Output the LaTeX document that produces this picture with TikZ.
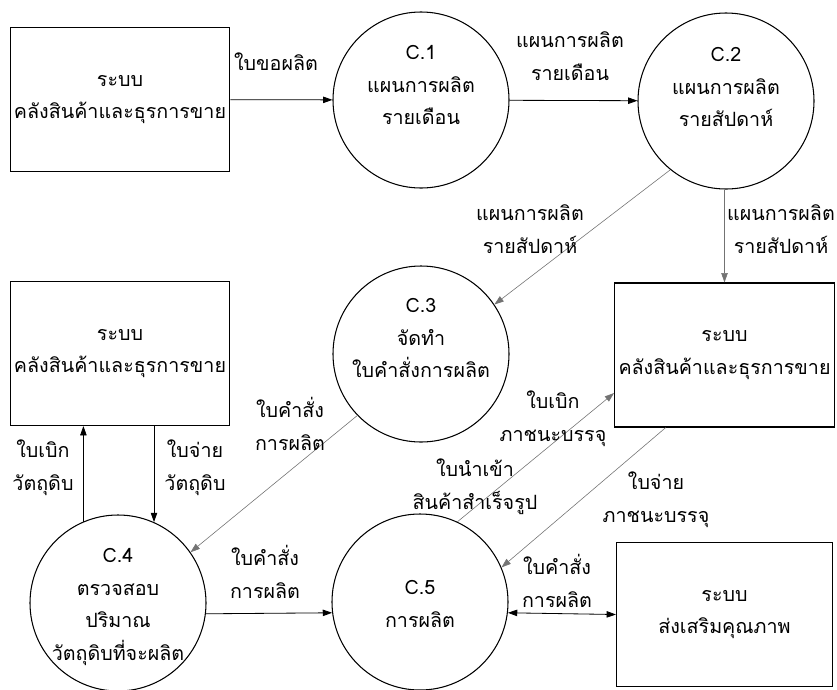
\documentclass[tikz,border=0pt]{standalone}
\usepackage{fontspec}
\setmainfont[Script=Thai]{Loma}
\usepackage{tikz}
\usetikzlibrary{arrows.meta}

\begin{document}
\begin{tikzpicture}[x=0.03cm,y=-0.03cm,
    font=\fontsize{16.8}{28}\selectfont,
    ent/.style={draw,line width=0.9pt,minimum width=6.48cm,minimum height=4.32cm,align=center},
    proc/.style={draw,circle,line width=0.9pt,minimum size=5.28cm,inner sep=0pt},
    txt/.style={align=center,inner sep=1pt},
    flow/.style={line width=0.7pt,-{Triangle[length=8pt,width=5.5pt]}},
    both/.style={line width=0.7pt,{Triangle[length=8pt,width=5.5pt]}-{Triangle[length=8pt,width=5.5pt]}},
    thin/.style={flow,line width=0.5pt,draw=black!55}]
			\useasboundingbox (0,0) rectangle (837,689);
			\node[ent] (b1) at (120,99.5) {ระบบ\\คลังสินค้าและธุรการขาย};
			\node[ent] (b3) at (120,353.5) {ระบบ\\คลังสินค้าและธุรการขาย};
			\node[ent] (b2) at (724.5,355) {ระบบ\\คลังสินค้าและธุรการขาย};
			\node[ent] (b4) at (724.5,614.5) {ระบบ\\ส่งเสริมคุณภาพ};
			\node[proc] (c1) at (421,100) {};
			\node[proc] (c2) at (726,101) {};
			\node[proc] (c3) at (421,354) {};
			\node[proc] (c4) at (118,603) {};
			\node[proc] (c5) at (420,602) {};
			\node[txt] (c1t) at (421,85) {C.1\\แผนการผลิต\\รายเดือน};
			\node[txt] (c2t) at (726,87) {C.2\\แผนการผลิต\\รายสัปดาห์};
			\node[txt] (c3t) at (421,338) {C.3\\จัดทำ\\ใบคำสั่งการผลิต};
			\node[txt] (c4t) at (118,607) {C.4\\ตรวจสอบ\\ปริมาณ\\วัตถุดิบที่จะผลิต};
			\node[txt] (c5t) at (420,604) {C.5\\การผลิต};
			\draw[flow] (b1) -- (c1);
			\draw[flow] (c1) -- (c2);
			\draw[thin] (c2.231) -- (c3.34);
			\draw[thin] (c2.south -| b2.north) -- (b2.north);
			\draw[thin] (c3.224) -- (c4.35);
			\draw[flow] (c4.113) -- (c4.113 |- b3.south);
			\draw[flow] (b3.south -| c4.66) -- (c4.66);
			\draw[flow] (c4.-7) -- (c5.187);
			\draw[thin] (c5.65) -- (b2.199.5);
			\draw[thin] (b2.231) -- (c5.23);
			\draw[both] (c5.-7) -- (b4.west);
			\node[txt] (l1) at (276,62) {ใบขอผลิต};
			\node[txt] (l2) at (570,56) {แผนการผลิต\\รายเดือน};
			\node[txt] (l3) at (530,229) {แผนการผลิต\\รายสัปดาห์};
			\node[txt] (l4) at (781,229) {แผนการผลิต\\รายสัปดาห์};
			\node[txt] (l5) at (290,424) {ใบคำสั่ง\\การผลิต};
			\node[txt] (l6) at (43,468) {ใบเบิก\\วัตถุดิบ};
			\node[txt] (l7) at (195,468) {ใบจ่าย\\วัตถุดิบ};
			\node[txt] (l8) at (265,572) {ใบคำสั่ง\\การผลิต};
			\node[txt] (l9) at (553,419) {ใบเบิก\\ภาชนะบรรจุ};
			\node[txt] (l10) at (475,487) {ใบนำเข้า\\สินค้าสำเร็จรูป};
			\node[txt] (l11) at (656,500) {ใบจ่าย\\ภาชนะบรรจุ};
			\node[txt] (l12) at (557,581) {ใบคำสั่ง\\การผลิต};
		\end{tikzpicture}
\end{document}
